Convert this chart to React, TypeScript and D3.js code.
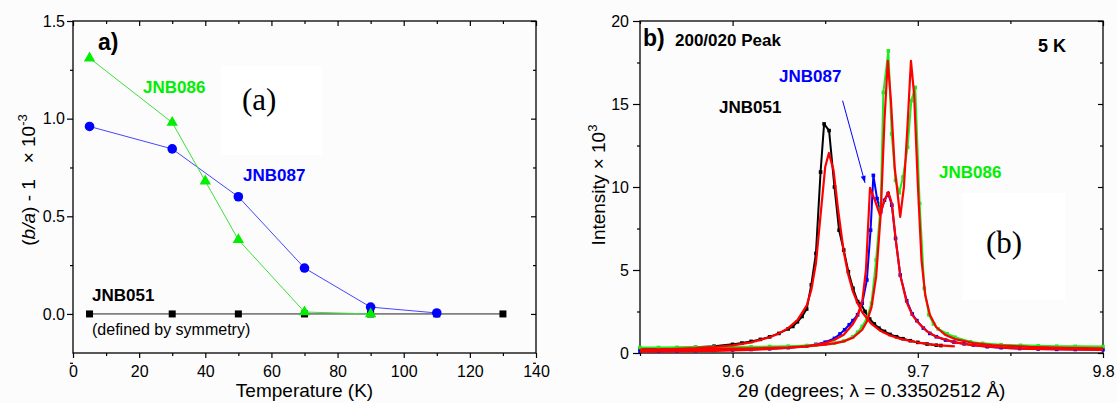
import React, { useEffect, useRef } from "react";
import * as d3 from "d3";

// ---- panel a: orthorhombic distortion (b/a) - 1 vs temperature ----
const tempK086 = [5, 30, 40, 50, 70, 90];
const ratio086 = [1.31, 0.98, 0.68, 0.38, 0.01, 0.0];
const tempK087 = [5, 30, 50, 70, 90, 110];
const ratio087 = [0.96, 0.845, 0.6, 0.235, 0.035, 0.005];
const tempK051 = [5, 30, 50, 70, 90, 110, 130];
const ratio051 = [0, 0, 0, 0, 0, 0, 0];
const tempTicks = [0, 20, 40, 60, 80, 100, 120, 140];
const tempMinor = [10, 30, 50, 70, 90, 110, 130];
const ratioTicks = [0, 0.5, 1.0, 1.5];
const ratioMinor = [-0.25, 0.25, 0.75, 1.25];

// ---- panel b: 200/020 peak at 5 K ----
const theta051 = [9.55, 9.56, 9.57, 9.58, 9.59, 9.6, 9.605, 9.61, 9.615, 9.62, 9.625, 9.63, 9.6325, 9.635, 9.6375, 9.64, 9.6425, 9.645, 9.6475, 9.6494, 9.6521, 9.655, 9.6575, 9.66, 9.6625, 9.665, 9.6675, 9.6695, 9.6715, 9.674, 9.6765, 9.679, 9.682, 9.685, 9.6885, 9.692, 9.696, 9.7, 9.705, 9.71, 9.7125];
const int051 = [0.24, 0.27, 0.3, 0.34, 0.41, 0.52, 0.6, 0.7, 0.82, 0.97, 1.18, 1.45, 1.6, 1.88, 2.2, 2.65, 4.1, 6.0, 10.9, 13.8, 13.4, 10.0, 7.4, 6.2, 4.9, 3.9, 3.1, 2.9, 2.5, 2.05, 1.75, 1.5, 1.3, 1.12, 0.98, 0.86, 0.74, 0.64, 0.54, 0.47, 0.45];
const thetaFit051 = [9.55, 9.56, 9.57, 9.58, 9.59, 9.6, 9.61, 9.62, 9.625, 9.63, 9.635, 9.64, 9.6425, 9.645, 9.6475, 9.65, 9.652, 9.6545, 9.657, 9.66, 9.6625, 9.665, 9.6675, 9.67, 9.675, 9.68, 9.685, 9.69, 9.7, 9.71, 9.72];
const intFit051 = [0.18, 0.21, 0.25, 0.29, 0.36, 0.46, 0.64, 0.95, 1.18, 1.5, 1.98, 2.85, 3.8, 5.4, 8.3, 11.2, 12.05, 11.0, 8.6, 6.1, 4.7, 3.7, 3.0, 2.45, 1.75, 1.32, 1.05, 0.87, 0.63, 0.48, 0.4];

const theta087 = [9.55, 9.56, 9.57, 9.58, 9.59, 9.6, 9.61, 9.62, 9.63, 9.64, 9.645, 9.65, 9.655, 9.658, 9.6605, 9.663, 9.665, 9.6675, 9.67, 9.6725, 9.6745, 9.676, 9.678, 9.68, 9.682, 9.684, 9.686, 9.688, 9.6905, 9.694, 9.697, 9.6995, 9.703, 9.7065, 9.71, 9.715, 9.7195, 9.725, 9.73, 9.7375, 9.745, 9.755, 9.765, 9.775, 9.785, 9.8];
const int087 = [0.1, 0.11, 0.12, 0.14, 0.16, 0.18, 0.21, 0.25, 0.32, 0.42, 0.52, 0.65, 0.88, 1.15, 1.4, 1.7, 1.95, 2.3, 3.0, 4.4, 7.4, 10.7, 9.3, 8.5, 9.2, 9.6, 8.9, 6.9, 4.7, 3.15, 2.35, 1.95, 1.5, 1.18, 0.98, 0.78, 0.66, 0.55, 0.48, 0.38, 0.32, 0.27, 0.24, 0.22, 0.21, 0.2];
const thetaFit087 = [9.55, 9.57, 9.59, 9.61, 9.63, 9.64, 9.65, 9.655, 9.66, 9.665, 9.6675, 9.67, 9.672, 9.6742, 9.6765, 9.6796, 9.682, 9.6841, 9.686, 9.688, 9.6905, 9.694, 9.697, 9.7, 9.705, 9.71, 9.72, 9.73, 9.74, 9.75, 9.76, 9.78, 9.8];
const intFit087 = [0.08, 0.1, 0.13, 0.19, 0.3, 0.4, 0.6, 0.8, 1.1, 1.75, 2.25, 3.1, 5.0, 9.95, 9.3, 8.3, 9.2, 9.7, 9.0, 6.9, 4.7, 3.05, 2.3, 1.85, 1.3, 0.98, 0.64, 0.46, 0.36, 0.29, 0.25, 0.21, 0.19];

const theta086 = [9.55, 9.56, 9.57, 9.58, 9.59, 9.6, 9.61, 9.62, 9.63, 9.64, 9.645, 9.65, 9.655, 9.66, 9.665, 9.6675, 9.67, 9.6725, 9.675, 9.6775, 9.68, 9.6814, 9.6841, 9.6859, 9.688, 9.69, 9.692, 9.6945, 9.6965, 9.6986, 9.701, 9.7035, 9.706, 9.7085, 9.711, 9.7158, 9.72, 9.7284, 9.735, 9.745, 9.7555, 9.765, 9.775, 9.785, 9.8];
const int086 = [0.33, 0.33, 0.34, 0.34, 0.35, 0.36, 0.37, 0.39, 0.41, 0.45, 0.48, 0.53, 0.6, 0.72, 0.98, 1.25, 1.6, 2.1, 3.0, 5.6, 9.0, 15.7, 18.2, 13.2, 10.4, 9.65, 10.6, 12.4, 15.2, 16.0, 9.0, 3.9, 2.3, 1.75, 1.45, 1.16, 0.95, 0.68, 0.58, 0.5, 0.46, 0.43, 0.41, 0.4, 0.39];
const thetaFit086 = [9.55, 9.57, 9.59, 9.61, 9.63, 9.64, 9.65, 9.655, 9.66, 9.665, 9.67, 9.6725, 9.675, 9.6775, 9.68, 9.682, 9.6838, 9.6855, 9.6875, 9.6905, 9.6925, 9.6945, 9.6963, 9.698, 9.7, 9.702, 9.704, 9.7065, 9.71, 9.715, 9.72, 9.73, 9.74, 9.76, 9.78, 9.8];
const intFit086 = [0.2, 0.22, 0.25, 0.28, 0.34, 0.4, 0.5, 0.58, 0.7, 0.92, 1.4, 1.9, 2.75, 4.6, 8.4, 14.0, 17.6, 15.2, 11.2, 8.2, 10.0, 13.8, 17.6, 15.6, 10.2, 5.6, 3.5, 2.3, 1.55, 1.08, 0.84, 0.6, 0.48, 0.37, 0.31, 0.28];

const thetaTicks = [9.6, 9.7, 9.8];
const thetaMinor = [9.55, 9.65, 9.75];
const intensityTicks = [0, 5, 10, 15, 20];
const intensityMinor = [2.5, 7.5, 12.5, 17.5];

// arrow pointing at the JNB087 doublet (data units)
const arrowFrom = [9.6594, 15.2];
const arrowTo = [9.6715, 10.25];

const SANS = "'Liberation Sans', Arial, sans-serif";
const SERIF = "'Liberation Serif', 'Times New Roman', serif";
const BLUE = "#0000ff";
const GREEN = "#00ee00";
const RED = "#ff0000";

function drawFrame(g, x, y, major, opts) {
  const [x0, x1] = x.range();
  const [y0, y1] = y.range(); // y0 bottom, y1 top

  const styleAxis = (sel) => {
    sel.select(".domain").remove();
    sel.selectAll("line").attr("stroke", "#000").attr("stroke-width", 1.2);
    sel.selectAll("text").style("font-family", SANS).style("font-size", "16px").attr("fill", "#000");
  };

  g.append("g").attr("transform", `translate(0,${y0})`)
    .call(d3.axisBottom(x).tickValues(major.x).tickSize(5).tickPadding(8).tickFormat(opts.fx)).call(styleAxis);
  g.append("g").attr("transform", `translate(0,${y0})`)
    .call(d3.axisBottom(x).tickValues(major.xm).tickSize(3).tickFormat(() => "")).call(styleAxis);
  g.append("g").attr("transform", `translate(${x0},0)`)
    .call(d3.axisLeft(y).tickValues(major.y).tickSize(opts.ly).tickPadding(opts.lp).tickFormat(opts.fy)).call(styleAxis);
  g.append("g").attr("transform", `translate(${x0},0)`)
    .call(d3.axisLeft(y).tickValues(major.ym).tickSize(3).tickFormat(() => "")).call(styleAxis);
  // mirrored inward ticks
  g.append("g").attr("transform", `translate(0,${y1})`)
    .call(d3.axisTop(x).tickValues(major.x).tickSize(-5).tickFormat(() => "")).call(styleAxis);
  g.append("g").attr("transform", `translate(0,${y1})`)
    .call(d3.axisTop(x).tickValues(major.xm).tickSize(-3).tickFormat(() => "")).call(styleAxis);
  g.append("g").attr("transform", `translate(${x1},0)`)
    .call(d3.axisRight(y).tickValues(major.y).tickSize(-5).tickFormat(() => "")).call(styleAxis);
  g.append("g").attr("transform", `translate(${x1},0)`)
    .call(d3.axisRight(y).tickValues(major.ym).tickSize(-3).tickFormat(() => "")).call(styleAxis);

  g.append("rect").attr("x", x0).attr("y", y1).attr("width", x1 - x0).attr("height", y0 - y1)
    .attr("fill", "none").attr("stroke", "#000").attr("stroke-width", 1.3);
}

function label(g, x, y, text, color, size, weight = "bold", family = SANS) {
  return g.append("text").attr("x", x).attr("y", y).text(text)
    .attr("fill", color).style("font-family", family).style("font-size", `${size}px`).style("font-weight", weight);
}

export default function App() {
  const ref = useRef(null);

  useEffect(() => {
    const svg = d3.select(ref.current);
    svg.selectAll("*").remove();

    svg.append("rect").attr("width", 1117).attr("height", 403).attr("fill", "#fcfcfc");

    // ================= panel a =================
    const ga = svg.append("g");
    const xa = d3.scaleLinear().domain([0, 140]).range([73, 536]);
    const ya = d3.scaleLinear().domain([-0.2, 1.5]).range([353, 21]);

    ga.append("rect").attr("x", 221).attr("y", 66).attr("width", 101).attr("height", 89).attr("fill", "#fff");

    drawFrame(ga, xa, ya, { x: tempTicks, xm: tempMinor, y: ratioTicks, ym: ratioMinor },
      { fx: d3.format("d"), fy: d3.format(".1f"), ly: 6, lp: 2 });

    const lineA = (xs, ys) => d3.line().x((d, i) => xa(xs[i])).y((d) => ya(d))(ys);

    ga.append("path").attr("d", lineA(tempK051, ratio051)).attr("fill", "none").attr("stroke", "#222").attr("stroke-width", 1);
    ga.selectAll(".sq").data(ratio051).join("rect")
      .attr("x", (d, i) => xa(tempK051[i]) - 3.5).attr("y", (d) => ya(d) - 3.5)
      .attr("width", 7).attr("height", 7).attr("fill", "#000");

    ga.append("path").attr("d", lineA(tempK087, ratio087)).attr("fill", "none").attr("stroke", "#4646ff").attr("stroke-width", 1);
    ga.selectAll(".ci").data(ratio087).join("circle")
      .attr("cx", (d, i) => xa(tempK087[i])).attr("cy", (d) => ya(d)).attr("r", 4.8).attr("fill", BLUE);

    ga.append("path").attr("d", lineA(tempK086, ratio086)).attr("fill", "none").attr("stroke", "#3de03d").attr("stroke-width", 1);
    const tri = d3.symbol().type(d3.symbolTriangle).size(56);
    ga.selectAll(".tr").data(ratio086).join("path")
      .attr("d", tri)
      .attr("transform", (d, i) => `translate(${xa(tempK086[i])},${ya(d)})`)
      .attr("fill", GREEN);

    label(ga, 98, 50, "a)", "#000", 23);
    label(ga, 143, 93, "JNB086", GREEN, 17);
    label(ga, 242, 110, "(a)", "#000", 31, "normal", SERIF);
    label(ga, 243, 181, "JNB087", BLUE, 17);
    label(ga, 92, 301, "JNB051", "#000", 17);
    label(ga, 92, 335, "(defined by symmetry)", "#000", 16, "normal");

    ga.append("text").attr("x", 304.5).attr("y", 397).attr("text-anchor", "middle")
      .style("font-family", SANS).style("font-size", "19px").text("Temperature (K)");

    const ta = ga.append("text").attr("transform", "translate(35,180) rotate(-90)").attr("text-anchor", "middle")
      .style("font-family", SANS).style("font-size", "19px").style("white-space", "pre");
    ta.append("tspan").text("(");
    ta.append("tspan").style("font-style", "italic").text("b/a");
    ta.append("tspan").text(") - 1   × 10");
    ta.append("tspan").attr("dy", -8).style("font-size", "13px").text("-3");

    // ================= panel b =================
    const gb = svg.append("g");
    const xb = d3.scaleLinear().domain([9.55, 9.8]).range([640, 1103]);
    const yb = d3.scaleLinear().domain([0, 20]).range([353, 21]);

    gb.append("rect").attr("x", 962).attr("y", 193).attr("width", 103).attr("height", 107).attr("fill", "#fff");

    drawFrame(gb, xb, yb, { x: thetaTicks, xm: thetaMinor, y: intensityTicks, ym: intensityMinor },
      { fx: d3.format(".1f"), fy: d3.format("d"), ly: 7, lp: 4 });

    const lineB = (xs, ys) => d3.line().x((d, i) => xb(xs[i])).y((d) => yb(d))(ys);

    const series = [
      { xs: theta051, ys: int051, color: "#000" },
      { xs: theta087, ys: int087, color: BLUE },
      { xs: theta086, ys: int086, color: "#22e822" },
    ];
    series.forEach((s) => {
      gb.append("path").attr("d", lineB(s.xs, s.ys)).attr("fill", "none")
        .attr("stroke", s.color).attr("stroke-width", 2).attr("stroke-linejoin", "round");
      gb.append("g").selectAll("rect").data(s.ys).join("rect")
        .attr("x", (d, i) => xb(s.xs[i]) - 1.8).attr("y", (d) => yb(d) - 1.8)
        .attr("width", 3.6).attr("height", 3.6).attr("fill", s.color);
    });

    [[thetaFit051, intFit051], [thetaFit087, intFit087], [thetaFit086, intFit086]].forEach(([xs, ys]) => {
      gb.append("path").attr("d", lineB(xs, ys)).attr("fill", "none")
        .attr("stroke", RED).attr("stroke-width", 2.2).attr("stroke-linejoin", "round");
    });

    // arrow
    const ax0 = xb(arrowFrom[0]), ay0 = yb(arrowFrom[1]);
    const ax1 = xb(arrowTo[0]), ay1 = yb(arrowTo[1]);
    gb.append("line").attr("x1", ax0).attr("y1", ay0).attr("x2", ax1).attr("y2", ay1)
      .attr("stroke", BLUE).attr("stroke-width", 1);
    const ang = Math.atan2(ay1 - ay0, ax1 - ax0);
    const hl = 7, hw = 2.5;
    const p1 = [ax1 - hl * Math.cos(ang) + hw * Math.sin(ang), ay1 - hl * Math.sin(ang) - hw * Math.cos(ang)];
    const p2 = [ax1 - hl * Math.cos(ang) - hw * Math.sin(ang), ay1 - hl * Math.sin(ang) + hw * Math.cos(ang)];
    gb.append("path").attr("d", `M${ax1},${ay1}L${p1[0]},${p1[1]}L${p2[0]},${p2[1]}Z`).attr("fill", BLUE);

    label(gb, 643, 46, "b)", "#000", 23);
    label(gb, 675, 46, "200/020 Peak", "#000", 17);
    label(gb, 1038, 52, "5 K", "#000", 18);
    label(gb, 779, 82, "JNB087", BLUE, 17);
    label(gb, 719, 113, "JNB051", "#000", 17);
    label(gb, 939, 178, "JNB086", GREEN, 17);
    label(gb, 986, 253, "(b)", "#000", 31, "normal", SERIF);

    gb.append("text").attr("x", 871.5).attr("y", 397).attr("text-anchor", "middle")
      .style("font-family", SANS).style("font-size", "19px").text("2θ (degrees; λ = 0.33502512 Å)");

    const tb = gb.append("text").attr("transform", "translate(605,185) rotate(-90)").attr("text-anchor", "middle")
      .style("font-family", SANS).style("font-size", "19px");
    tb.append("tspan").text("Intensity × 10");
    tb.append("tspan").attr("dy", -8).style("font-size", "13px").text("3");
  }, []);

  return (
    <svg ref={ref} width={1117} height={403}
      style={{ position: "absolute", left: 0, top: 0, display: "block" }} />
  );
}
